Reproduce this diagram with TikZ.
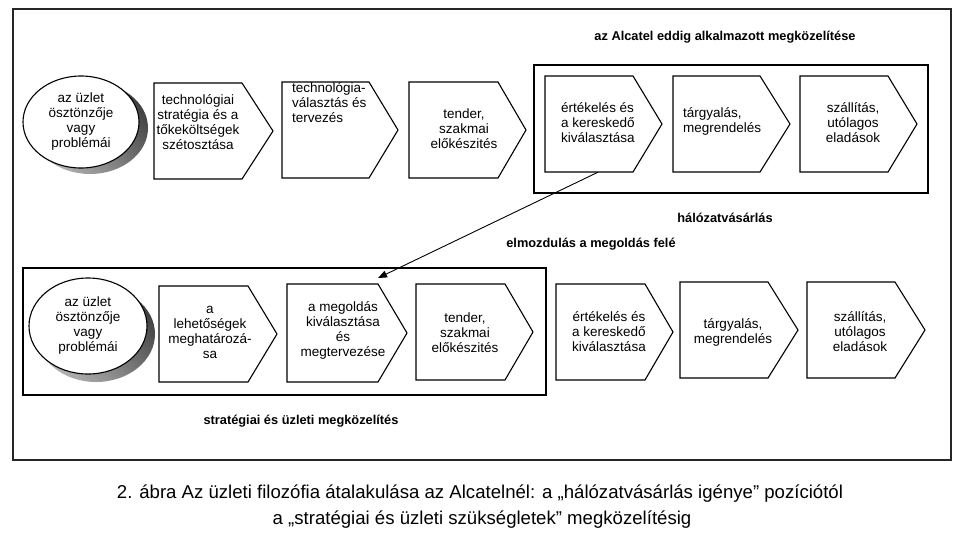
\documentclass[tikz,border=0pt]{standalone}
\usepackage{fontspec}
\setmainfont{Liberation Sans}
\usetikzlibrary{shapes.geometric,fit,arrows.meta,calc}
\tikzset{
  chevline/.style={draw=black, line width=1.1pt, fill=white},
  boxline/.style={draw=black, line width=1.3pt},
  frameline/.style={draw=black!85, line width=1.6pt},
  txt/.style={inner sep=0pt, align=center, font=\fontsize{13.5}{15}\selectfont},
  lbl/.style={inner sep=0pt, font=\fontsize{12.8}{15}\selectfont\bfseries},
  ell/.style={ellipse, draw=black, line width=1.1pt, fill=white, minimum width=116pt, minimum height=92pt, inner sep=0pt, align=center, font=\fontsize{13.5}{15}\selectfont},
  shadowfill/.style={left color=black!30, right color=black!75, shading angle=135},
  captxt/.style={inner sep=0pt, align=center, font=\fontsize{18.6}{22}\selectfont},
  arr/.style={line width=0.9pt, -{Triangle[length=9pt,width=7pt]}}
}
\newcommand\chev[6]{%
  \draw[chevline] (#2,#5) -- (#3,#5) -- (#4,{(#5+#6)/2}) -- (#3,#6) -- (#2,#6) -- cycle;
  \node[inner sep=0pt, fit={(#2,#5) (#4,#6)}] (#1) {};}
\begin{document}
\begin{tikzpicture}[x=1pt,y=-1pt]
\useasboundingbox (0,0) rectangle (959,555);
\fill[white] (0,0) rectangle (959,555);
% outer frame
\draw[frameline] (13,9) rectangle (951,460);
% inner boxes
\draw[boxline] (534,65) rectangle (928,193);
\draw[boxline] (23,268) rectangle (546,395);
% labels
\node[lbl] (ttl) at (725,37) {az Alcatel eddig alkalmazott megközelítése};
\node[lbl] (halo) at (725,218) {hálózatvásárlás};
\node[lbl] (elmo) at (591,244) {elmozdulás a megoldás felé};
\node[lbl] (strat) at (301,421) {stratégiai és üzleti megközelítés};
% top row
\shade[shadowfill] (90,128) ellipse [x radius=58, y radius=46];
\node[ell] (e1) at (81,122) {az üzlet\\ösztönzője\\vagy\\problémái};
\chev{c1}{154}{242}{273}{83}{179}
\node[txt] (t1) at (198,122) {technológiai\\stratégia és a\\tőkeköltségek\\szétosztása};
\chev{c2}{282}{369}{398}{82}{178}
\node[txt, align=left, anchor=west] (t2) at (292,103) {technológia-\\választás és\\tervezés};
\chev{c3}{409}{498}{526}{82}{178}
\node[txt] (t3) at (464,129) {tender,\\szakmai\\előkészités};
\chev{c4}{545}{633}{662}{76}{172}
\node[txt, align=left] (t4) at (598,123) {értékelés és\\a kereskedő\\kiválasztása};
\chev{c5}{673}{760}{790}{76}{172}
\node[txt, align=left, anchor=west] (t5) at (683,121) {tárgyalás,\\megrendelés};
\chev{c6}{800}{888}{917}{76}{172}
\node[txt] (t6) at (853,123) {szállítás,\\utólagos\\eladások};
% bottom row
\shade[shadowfill] (96,334) ellipse [x radius=59, y radius=48];
\node[ell, minimum width=118pt, minimum height=96pt] (e2) at (88,326) {az üzlet\\ösztönzője\\vagy\\problémái};
\chev{b1}{159}{248}{277}{286}{382}
\node[txt] (s1) at (210,332) {a\\lehetőségek\\meghatározá-\\sa};
\chev{b2}{287}{378}{407}{284}{382}
\node[txt] (s2) at (343,330) {a megoldás\\kiválasztása\\és\\megtervezése};
\chev{b3}{416}{505}{533}{284}{380}
\node[txt] (s3) at (465,333) {tender,\\szakmai\\előkészités};
\chev{b4}{556}{645}{673}{284}{380}
\node[txt] (s4) at (609,332) {értékelés és\\a kereskedő\\kiválasztása};
\chev{b5}{680}{768}{798}{282}{378}
\node[txt] (s5) at (733,332) {tárgyalás,\\megrendelés};
\chev{b6}{807}{895}{925}{282}{378}
\node[txt] (s6) at (860,332) {szállítás,\\utólagos\\eladások};
% arrow
\coordinate (arrStart) at ($(c4.south west)!0.453!(c4.south east)$);
\coordinate (arrEnd) at (378,278);
\draw[arr] (arrStart) -- (arrEnd);
% caption
\node[captxt] (cap1) at (480,494) {2. ábra Az üzleti filozófia átalakulása az Alcatelnél: a „hálózatvásárlás igénye” pozíciótól};
\node[captxt] (cap2) at (482,520) {a „stratégiai és üzleti szükségletek” megközelítésig};
\end{tikzpicture}
\end{document}
